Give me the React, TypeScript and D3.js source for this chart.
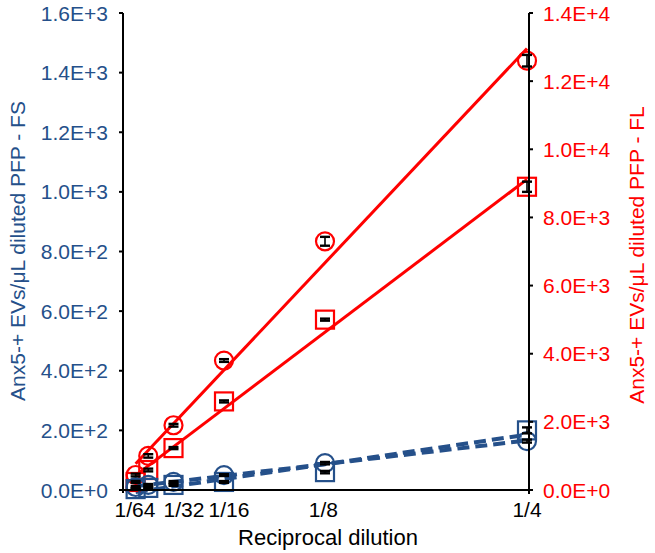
import React from "react";
import * as d3 from "d3";

// Data (x = reciprocal dilution)
const xVals = [1 / 128, 1 / 64, 1 / 32, 1 / 16, 1 / 8, 1 / 4];
// FL series (right axis)
const flCircle = [440, 1000, 1900, 3800, 7300, 12600];
const flCircleErr = [40, 50, 40, 40, 130, 170];
const flSquare = [235, 587, 1230, 2600, 5000, 8900];
const flSquareErr = [30, 40, 30, 30, 30, 150];
// FS series (left axis)
const fsCircle = [10, 17, 27, 50, 90, 164];
const fsCircleErr = [3, 3, 3, 3, 4, 5];
const fsSquare = [3, 7, 17, 27, 60, 200];
const fsSquareErr = [3, 3, 3, 3, 4, 10];

const leftTicks = [0, 200, 400, 600, 800, 1000, 1200, 1400, 1600];
const rightTicks = [0, 2000, 4000, 6000, 8000, 10000, 12000, 14000];
const xLabels = ["1/64", "1/32", "1/16", "1/8", "1/4"];
const xLabelAt = [0.0074, 0.0377, 0.0656, 0.124, 0.25];

const leftTitle = "Anx5-+ EVs/\u03bcL diluted PFP - FS";
const rightTitle = "Anx5-+ EVs/\u03bcL diluted PFP - FL";
const xTitle = "Reciprocal dilution";

const BLUE = "#25508a";
const RED = "#ff0000";
const FONT = "'Liberation Sans', Arial, Helvetica, sans-serif";

function fmtE(v: number): string {
  if (v === 0) return "0.0E+0";
  const e = Math.floor(Math.log10(v));
  const m = v / Math.pow(10, e);
  return `${m.toFixed(1)}E+${e}`;
}

function regress(xs: number[], ys: number[]) {
  const mx = d3.mean(xs) as number;
  const my = d3.mean(ys) as number;
  let sxy = 0;
  let sxx = 0;
  xs.forEach((x, i) => {
    sxy += (x - mx) * (ys[i] - my);
    sxx += (x - mx) * (x - mx);
  });
  const b = sxy / sxx;
  return { a: my - b * mx, b };
}

export default function App() {
  const W = 655;
  const H = 553;
  const left = 123;
  const right = 527;
  const top = 13;
  const bottom = 490;

  const x = d3.scaleLinear().domain([0, 0.25]).range([left, right]);
  const yL = d3.scaleLinear().domain([0, 1600]).range([bottom, top]);
  const yR = d3.scaleLinear().domain([0, 14000]).range([bottom, top]);

  const series = [
    { ys: flCircle, err: flCircleErr, scale: yR, color: RED, shape: "circle", dash: undefined, width: 3 },
    { ys: flSquare, err: flSquareErr, scale: yR, color: RED, shape: "square", dash: undefined, width: 3 },
    { ys: fsCircle, err: fsCircleErr, scale: yL, color: BLUE, shape: "circle", dash: "12 6", width: 4 },
    { ys: fsSquare, err: fsSquareErr, scale: yL, color: BLUE, shape: "square", dash: "12 6", width: 4 },
  ];

  const line = (s: any) => {
    const { a, b } = regress(xVals, s.ys);
    const x0 = xVals[0];
    const x1 = xVals[xVals.length - 1];
    const gen = d3
      .line<number>()
      .x((d) => x(d))
      .y((d) => s.scale(a + b * d));
    return gen([x0, x1]) as string;
  };

  const r = 9;
  const sq = 9;

  return (
    <div style={{ position: "absolute", left: 0, top: 0 }}>
      <svg width={W} height={H} style={{ display: "block", background: "#fff" }}>
        {/* regression lines */}
        {series.map((s, i) => (
          <path key={"l" + i} d={line(s)} fill="none" stroke={s.color} strokeWidth={s.width} strokeDasharray={s.dash} />
        ))}
        {/* markers */}
        {series.map((s, i) =>
          s.ys.map((v, j) =>
            s.shape === "circle" ? (
              <circle key={`m${i}-${j}`} cx={x(xVals[j])} cy={s.scale(v)} r={r} fill="none" stroke={s.color} strokeWidth={2.2} />
            ) : (
              <rect
                key={`m${i}-${j}`}
                x={x(xVals[j]) - sq}
                y={s.scale(v) - sq}
                width={sq * 2}
                height={sq * 2}
                fill="none"
                stroke={s.color}
                strokeWidth={2.2}
              />
            )
          )
        )}
        {/* error bars */}
        {series.map((s, i) =>
          s.ys.map((v, j) => {
            const cx = x(xVals[j]);
            const y1 = s.scale(v + s.err[j]);
            const y2 = s.scale(v - s.err[j]);
            return (
              <g key={`e${i}-${j}`} stroke="#000" strokeWidth={2.4}>
                <line x1={cx} x2={cx} y1={y1} y2={y2} strokeWidth={1.6} />
                <line x1={cx - 5} x2={cx + 5} y1={y1} y2={y1} />
                <line x1={cx - 5} x2={cx + 5} y1={y2} y2={y2} />
              </g>
            );
          })
        )}
        {/* axes */}
        <g stroke="#000" strokeWidth={2} fill="none">
          <line x1={left} x2={left} y1={top} y2={bottom + 3} />
          <line x1={right + 2} x2={right + 2} y1={top} y2={bottom + 4} />
          <line x1={left - 4} x2={right + 6} y1={bottom} y2={bottom} />
          {leftTicks.map((t) => (
            <line key={"lt" + t} x1={left - 4} x2={left} y1={yL(t)} y2={yL(t)} />
          ))}
          {rightTicks.map((t) => (
            <line key={"rt" + t} x1={right + 2} x2={right + 6} y1={yR(t)} y2={yR(t)} />
          ))}
        </g>
        {/* tick labels */}
        <g fontFamily={FONT} fontSize={21}>
          {leftTicks.map((t) => (
            <text key={"ll" + t} x={108} y={yL(t)} dy="0.36em" textAnchor="end" fill={BLUE}>
              {fmtE(t)}
            </text>
          ))}
          {rightTicks.map((t) => (
            <text key={"rl" + t} x={543} y={yR(t)} dy="0.36em" textAnchor="start" fill={RED}>
              {fmtE(t)}
            </text>
          ))}
          {xLabels.map((l, i) => (
            <text key={"xl" + l} x={x(xLabelAt[i])} y={517} textAnchor="middle" fill="#000">
              {l}
            </text>
          ))}
        </g>
        {/* titles */}
        <g fontFamily={FONT} fontSize={21}>
          <text x={328} y={545} textAnchor="middle" fill="#000" fontSize={22}>
            {xTitle}
          </text>
          <text transform={`translate(25,251) rotate(-90)`} textAnchor="middle" fill={BLUE}>
            {leftTitle}
          </text>
          <text transform={`translate(644,255) rotate(-90)`} textAnchor="middle" fill={RED}>
            {rightTitle}
          </text>
        </g>
      </svg>
    </div>
  );
}
